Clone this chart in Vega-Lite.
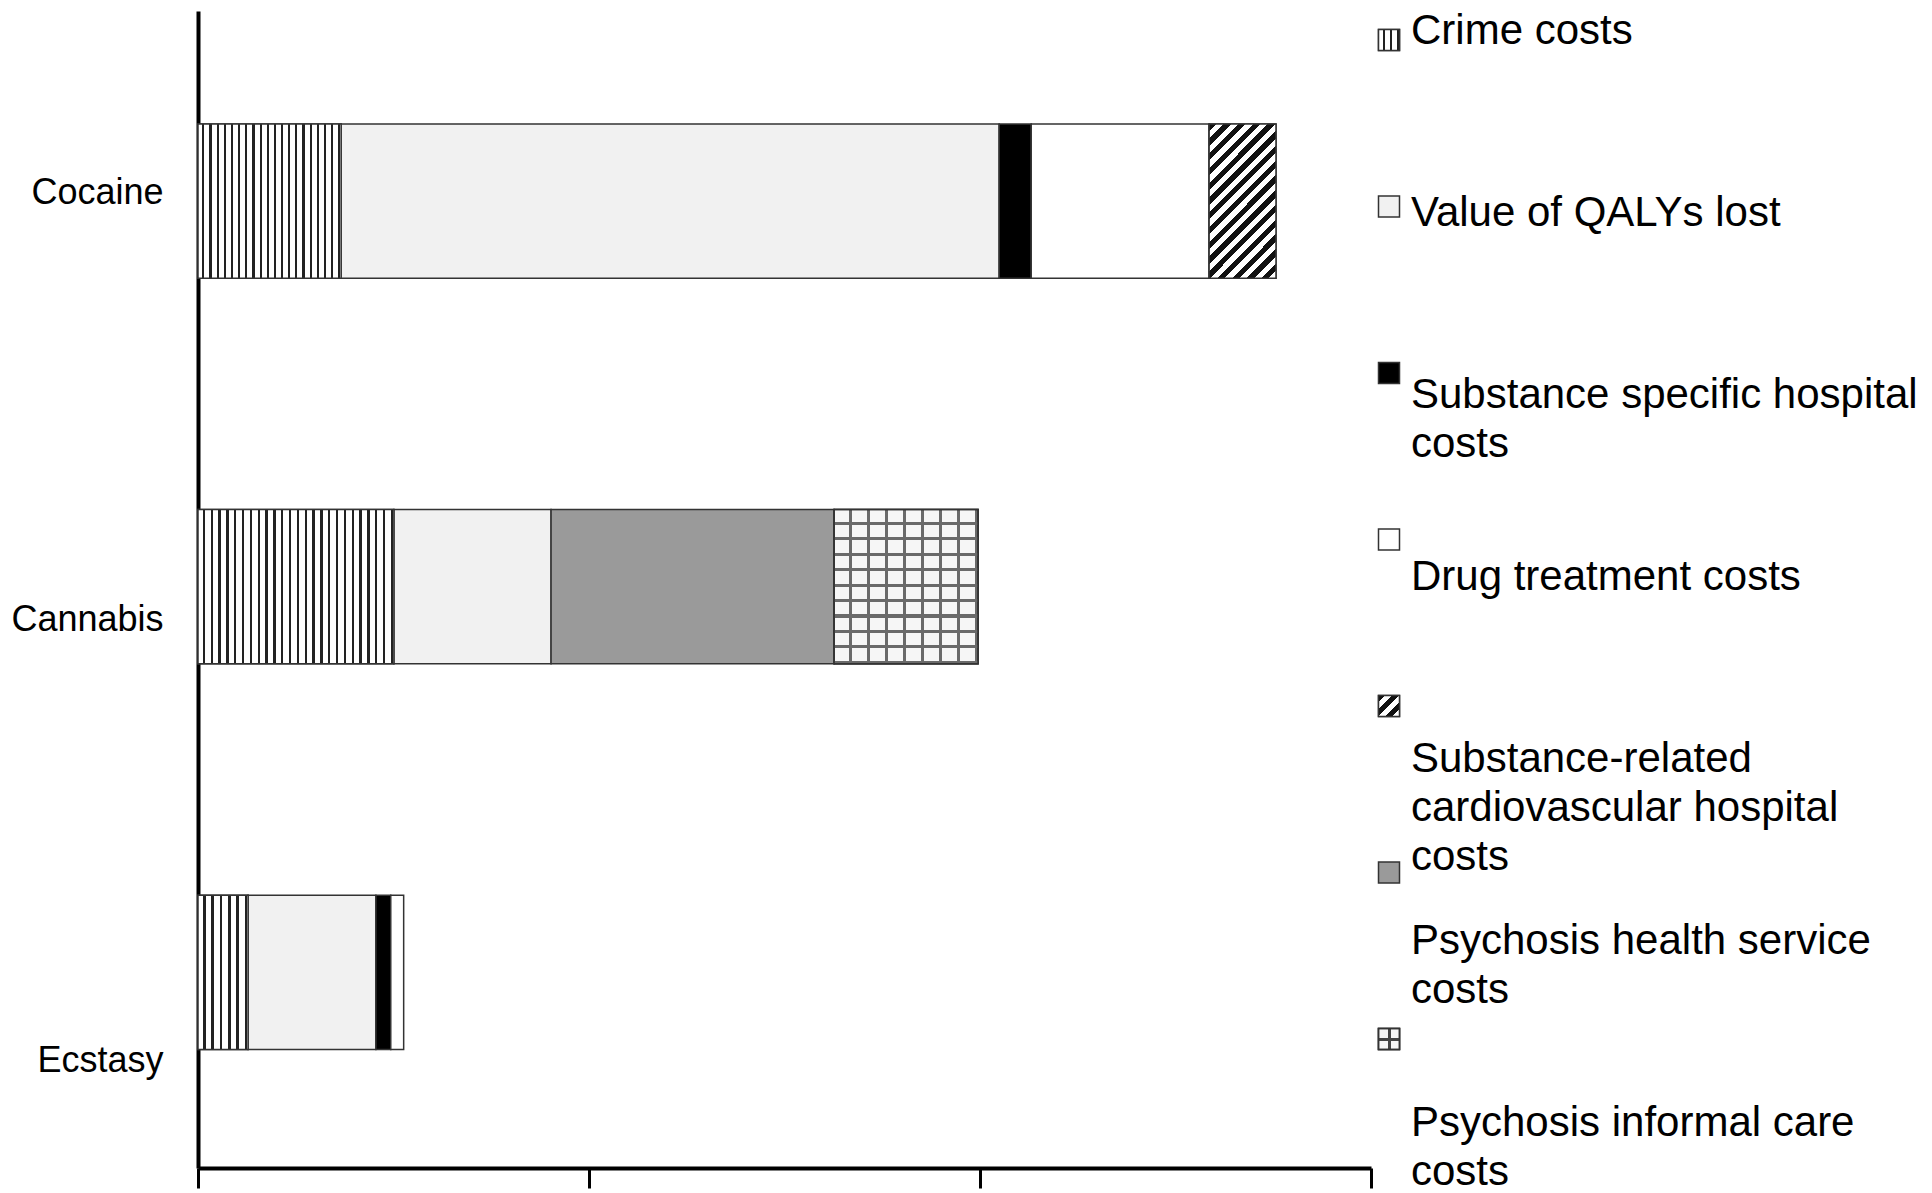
{
  "$schema": "https://vega.github.io/schema/vega-lite/v6.json",
  "autosize": {"type": "pad"},
  "padding": {"left": 10, "top": 10, "right": 5, "bottom": 5},
  "background": "white",
  "config": {"view": {"stroke": null}, "font": "Liberation Sans"},
  "datasets": {
    "bars": [
      {"drug": "Cocaine", "series": "Crime costs", "seq": 1, "cost": 36.6},
      {"drug": "Cocaine", "series": "Value of QALYs lost", "seq": 2, "cost": 168.3},
      {"drug": "Cocaine", "series": "Substance specific hospital costs", "seq": 3, "cost": 8.2},
      {"drug": "Cocaine", "series": "Drug treatment costs", "seq": 4, "cost": 45.5},
      {"drug": "Cocaine", "series": "Substance-related cardiovascular hospital costs", "seq": 5, "cost": 17.1},
      {"drug": "Cannabis", "series": "Crime costs", "seq": 1, "cost": 50.1},
      {"drug": "Cannabis", "series": "Value of QALYs lost", "seq": 2, "cost": 40.2},
      {"drug": "Cannabis", "series": "Psychosis health service costs", "seq": 6, "cost": 72.4},
      {"drug": "Cannabis", "series": "Psychosis informal care costs", "seq": 7, "cost": 36.8},
      {"drug": "Ecstasy", "series": "Crime costs", "seq": 1, "cost": 12.8},
      {"drug": "Ecstasy", "series": "Value of QALYs lost", "seq": 2, "cost": 32.7},
      {"drug": "Ecstasy", "series": "Substance specific hospital costs", "seq": 3, "cost": 3.8},
      {"drug": "Ecstasy", "series": "Drug treatment costs", "seq": 4, "cost": 3.3}
    ],
    "legend": [
      {"series": "Crime costs", "label": "Crime costs"},
      {"series": "Value of QALYs lost", "label": "Value of QALYs lost"},
      {"series": "Substance specific hospital costs", "label": "Substance specific hospital\ncosts"},
      {"series": "Drug treatment costs", "label": "Drug treatment costs"},
      {"series": "Substance-related cardiovascular hospital costs", "label": "Substance-related\ncardiovascular hospital\ncosts"},
      {"series": "Psychosis health service costs", "label": "Psychosis health service\ncosts"},
      {"series": "Psychosis informal care costs", "label": "Psychosis informal care\ncosts"}
    ]
  },
  "spacing": 2,
  "hconcat": [
    {
      "width": 1173,
      "height": 1157,
      "data": {"name": "bars"},
      "transform": [
        {"stack": "cost", "groupby": ["drug"], "sort": [{"field": "seq", "order": "ascending"}], "as": ["x0", "x1"]}
      ],
      "encoding": {
        "x": {"field": "x0", "type": "quantitative",
          "scale": {"domain": [0, 300], "nice": false, "zero": true},
          "axis": {"values": [0, 100, 200, 300], "labels": false, "ticks": true, "tickSize": 20, "tickWidth": 3, "tickColor": "#000", "domainColor": "#000", "domainWidth": 4, "grid": false, "title": null}},
        "x2": {"field": "x1"},
        "y": {"field": "drug", "type": "nominal",
          "scale": {"domain": ["Cocaine", "Cannabis", "Ecstasy"], "paddingInner": 0.6, "paddingOuter": 0.3, "align": 0.488},
          "axis": {"title": null, "ticks": false, "domainColor": "#000", "domainWidth": 4, "labelFont": "Liberation Sans", "labelFontSize": 36, "labelColor": "#000", "labelPadding": 35,
            "labelOffset": {"condition": [{"test": "datum.value === 'Cocaine'", "value": -8}, {"test": "datum.value === 'Ecstasy'", "value": 89}], "value": 33}}}
      },
      "layer": [
        {
          "mark": {"type": "bar", "stroke": "#333", "strokeWidth": 1.5, "opacity": 1},
          "encoding": {
            "color": {"field": "series", "type": "nominal", "legend": null,
              "scale": {"domain": ["Crime costs", "Value of QALYs lost", "Substance specific hospital costs", "Drug treatment costs", "Substance-related cardiovascular hospital costs", "Psychosis health service costs", "Psychosis informal care costs"],
                "range": ["#ffffff", "#f1f1f1", "#000000", "#ffffff", "#ffffff", "#9a9a9a", "#ffffff"]}}
          }
        },
        {
          "transform": [{"filter": "datum.drug === 'Cocaine' && datum.series === 'Crime costs'"}],
          "mark": {"type": "bar", "stroke": "#333", "strokeWidth": 1.5,
            "fill": {"gradient": "linear", "x1": 0, "y1": 0, "x2": 1, "y2": 0, "stops": [
              {"offset": 0, "color": "#fff"},
              {"offset": 0.03, "color": "#fff"}, {"offset": 0.03, "color": "#222"}, {"offset": 0.045, "color": "#222"}, {"offset": 0.045, "color": "#fff"},
              {"offset": 0.08, "color": "#fff"}, {"offset": 0.08, "color": "#222"}, {"offset": 0.095, "color": "#222"}, {"offset": 0.095, "color": "#fff"},
              {"offset": 0.13, "color": "#fff"}, {"offset": 0.13, "color": "#222"}, {"offset": 0.145, "color": "#222"}, {"offset": 0.145, "color": "#fff"},
              {"offset": 0.18, "color": "#fff"}, {"offset": 0.18, "color": "#222"}, {"offset": 0.195, "color": "#222"}, {"offset": 0.195, "color": "#fff"},
              {"offset": 0.23, "color": "#fff"}, {"offset": 0.23, "color": "#222"}, {"offset": 0.245, "color": "#222"}, {"offset": 0.245, "color": "#fff"},
              {"offset": 0.28, "color": "#fff"}, {"offset": 0.28, "color": "#222"}, {"offset": 0.295, "color": "#222"}, {"offset": 0.295, "color": "#fff"},
              {"offset": 0.33, "color": "#fff"}, {"offset": 0.33, "color": "#222"}, {"offset": 0.345, "color": "#222"}, {"offset": 0.345, "color": "#fff"},
              {"offset": 0.38, "color": "#fff"}, {"offset": 0.38, "color": "#222"}, {"offset": 0.395, "color": "#222"}, {"offset": 0.395, "color": "#fff"},
              {"offset": 0.43, "color": "#fff"}, {"offset": 0.43, "color": "#222"}, {"offset": 0.445, "color": "#222"}, {"offset": 0.445, "color": "#fff"},
              {"offset": 0.48, "color": "#fff"}, {"offset": 0.48, "color": "#222"}, {"offset": 0.495, "color": "#222"}, {"offset": 0.495, "color": "#fff"},
              {"offset": 0.53, "color": "#fff"}, {"offset": 0.53, "color": "#222"}, {"offset": 0.545, "color": "#222"}, {"offset": 0.545, "color": "#fff"},
              {"offset": 0.58, "color": "#fff"}, {"offset": 0.58, "color": "#222"}, {"offset": 0.595, "color": "#222"}, {"offset": 0.595, "color": "#fff"},
              {"offset": 0.63, "color": "#fff"}, {"offset": 0.63, "color": "#222"}, {"offset": 0.645, "color": "#222"}, {"offset": 0.645, "color": "#fff"},
              {"offset": 0.68, "color": "#fff"}, {"offset": 0.68, "color": "#222"}, {"offset": 0.695, "color": "#222"}, {"offset": 0.695, "color": "#fff"},
              {"offset": 0.73, "color": "#fff"}, {"offset": 0.73, "color": "#222"}, {"offset": 0.745, "color": "#222"}, {"offset": 0.745, "color": "#fff"},
              {"offset": 0.78, "color": "#fff"}, {"offset": 0.78, "color": "#222"}, {"offset": 0.795, "color": "#222"}, {"offset": 0.795, "color": "#fff"},
              {"offset": 0.83, "color": "#fff"}, {"offset": 0.83, "color": "#222"}, {"offset": 0.845, "color": "#222"}, {"offset": 0.845, "color": "#fff"},
              {"offset": 0.88, "color": "#fff"}, {"offset": 0.88, "color": "#222"}, {"offset": 0.895, "color": "#222"}, {"offset": 0.895, "color": "#fff"},
              {"offset": 0.93, "color": "#fff"}, {"offset": 0.93, "color": "#222"}, {"offset": 0.945, "color": "#222"}, {"offset": 0.945, "color": "#fff"},
              {"offset": 0.98, "color": "#fff"}, {"offset": 0.98, "color": "#222"}, {"offset": 0.995, "color": "#222"}, {"offset": 0.995, "color": "#fff"},
              {"offset": 1, "color": "#fff"}
            ]}}
        },
        {
          "transform": [{"filter": "datum.drug === 'Cannabis' && datum.series === 'Crime costs'"}],
          "mark": {"type": "bar", "stroke": "#333", "strokeWidth": 1.5,
            "fill": {"gradient": "linear", "x1": 0, "y1": 0, "x2": 1, "y2": 0, "stops": [
              {"offset": 0, "color": "#fff"},
              {"offset": 0.024, "color": "#fff"}, {"offset": 0.024, "color": "#222"}, {"offset": 0.036, "color": "#222"}, {"offset": 0.036, "color": "#fff"},
              {"offset": 0.064, "color": "#fff"}, {"offset": 0.064, "color": "#222"}, {"offset": 0.076, "color": "#222"}, {"offset": 0.076, "color": "#fff"},
              {"offset": 0.104, "color": "#fff"}, {"offset": 0.104, "color": "#222"}, {"offset": 0.116, "color": "#222"}, {"offset": 0.116, "color": "#fff"},
              {"offset": 0.144, "color": "#fff"}, {"offset": 0.144, "color": "#222"}, {"offset": 0.156, "color": "#222"}, {"offset": 0.156, "color": "#fff"},
              {"offset": 0.184, "color": "#fff"}, {"offset": 0.184, "color": "#222"}, {"offset": 0.196, "color": "#222"}, {"offset": 0.196, "color": "#fff"},
              {"offset": 0.224, "color": "#fff"}, {"offset": 0.224, "color": "#222"}, {"offset": 0.236, "color": "#222"}, {"offset": 0.236, "color": "#fff"},
              {"offset": 0.264, "color": "#fff"}, {"offset": 0.264, "color": "#222"}, {"offset": 0.276, "color": "#222"}, {"offset": 0.276, "color": "#fff"},
              {"offset": 0.304, "color": "#fff"}, {"offset": 0.304, "color": "#222"}, {"offset": 0.316, "color": "#222"}, {"offset": 0.316, "color": "#fff"},
              {"offset": 0.344, "color": "#fff"}, {"offset": 0.344, "color": "#222"}, {"offset": 0.356, "color": "#222"}, {"offset": 0.356, "color": "#fff"},
              {"offset": 0.384, "color": "#fff"}, {"offset": 0.384, "color": "#222"}, {"offset": 0.396, "color": "#222"}, {"offset": 0.396, "color": "#fff"},
              {"offset": 0.424, "color": "#fff"}, {"offset": 0.424, "color": "#222"}, {"offset": 0.436, "color": "#222"}, {"offset": 0.436, "color": "#fff"},
              {"offset": 0.464, "color": "#fff"}, {"offset": 0.464, "color": "#222"}, {"offset": 0.476, "color": "#222"}, {"offset": 0.476, "color": "#fff"},
              {"offset": 0.504, "color": "#fff"}, {"offset": 0.504, "color": "#222"}, {"offset": 0.516, "color": "#222"}, {"offset": 0.516, "color": "#fff"},
              {"offset": 0.544, "color": "#fff"}, {"offset": 0.544, "color": "#222"}, {"offset": 0.556, "color": "#222"}, {"offset": 0.556, "color": "#fff"},
              {"offset": 0.584, "color": "#fff"}, {"offset": 0.584, "color": "#222"}, {"offset": 0.596, "color": "#222"}, {"offset": 0.596, "color": "#fff"},
              {"offset": 0.624, "color": "#fff"}, {"offset": 0.624, "color": "#222"}, {"offset": 0.636, "color": "#222"}, {"offset": 0.636, "color": "#fff"},
              {"offset": 0.664, "color": "#fff"}, {"offset": 0.664, "color": "#222"}, {"offset": 0.676, "color": "#222"}, {"offset": 0.676, "color": "#fff"},
              {"offset": 0.704, "color": "#fff"}, {"offset": 0.704, "color": "#222"}, {"offset": 0.716, "color": "#222"}, {"offset": 0.716, "color": "#fff"},
              {"offset": 0.744, "color": "#fff"}, {"offset": 0.744, "color": "#222"}, {"offset": 0.756, "color": "#222"}, {"offset": 0.756, "color": "#fff"},
              {"offset": 0.784, "color": "#fff"}, {"offset": 0.784, "color": "#222"}, {"offset": 0.796, "color": "#222"}, {"offset": 0.796, "color": "#fff"},
              {"offset": 0.824, "color": "#fff"}, {"offset": 0.824, "color": "#222"}, {"offset": 0.836, "color": "#222"}, {"offset": 0.836, "color": "#fff"},
              {"offset": 0.864, "color": "#fff"}, {"offset": 0.864, "color": "#222"}, {"offset": 0.876, "color": "#222"}, {"offset": 0.876, "color": "#fff"},
              {"offset": 0.904, "color": "#fff"}, {"offset": 0.904, "color": "#222"}, {"offset": 0.916, "color": "#222"}, {"offset": 0.916, "color": "#fff"},
              {"offset": 0.944, "color": "#fff"}, {"offset": 0.944, "color": "#222"}, {"offset": 0.956, "color": "#222"}, {"offset": 0.956, "color": "#fff"},
              {"offset": 0.984, "color": "#fff"}, {"offset": 0.984, "color": "#222"}, {"offset": 0.996, "color": "#222"}, {"offset": 0.996, "color": "#fff"},
              {"offset": 1, "color": "#fff"}
            ]}}
        },
        {
          "transform": [{"filter": "datum.drug === 'Ecstasy' && datum.series === 'Crime costs'"}],
          "mark": {"type": "bar", "stroke": "#333", "strokeWidth": 1.5,
            "fill": {"gradient": "linear", "x1": 0, "y1": 0, "x2": 1, "y2": 0, "stops": [
              {"offset": 0, "color": "#fff"},
              {"offset": 0.1, "color": "#fff"}, {"offset": 0.1, "color": "#222"}, {"offset": 0.15, "color": "#222"}, {"offset": 0.15, "color": "#fff"},
              {"offset": 0.2667, "color": "#fff"}, {"offset": 0.2667, "color": "#222"}, {"offset": 0.3167, "color": "#222"}, {"offset": 0.3167, "color": "#fff"},
              {"offset": 0.4333, "color": "#fff"}, {"offset": 0.4333, "color": "#222"}, {"offset": 0.4833, "color": "#222"}, {"offset": 0.4833, "color": "#fff"},
              {"offset": 0.6, "color": "#fff"}, {"offset": 0.6, "color": "#222"}, {"offset": 0.65, "color": "#222"}, {"offset": 0.65, "color": "#fff"},
              {"offset": 0.7667, "color": "#fff"}, {"offset": 0.7667, "color": "#222"}, {"offset": 0.8167, "color": "#222"}, {"offset": 0.8167, "color": "#fff"},
              {"offset": 0.9333, "color": "#fff"}, {"offset": 0.9333, "color": "#222"}, {"offset": 0.9833, "color": "#222"}, {"offset": 0.9833, "color": "#fff"},
              {"offset": 1, "color": "#fff"}
            ]}}
        },
        {
          "transform": [{"filter": "datum.drug === 'Cocaine' && datum.series === 'Substance-related cardiovascular hospital costs'"}],
          "mark": {"type": "bar", "stroke": "#333", "strokeWidth": 1.5,
            "fill": {"gradient": "linear", "x1": 0, "y1": 0, "x2": 0.525, "y2": 1.207, "stops": [
              {"offset": 0, "color": "#111"}, {"offset": 0.0333, "color": "#111"}, {"offset": 0.0333, "color": "#fff"}, {"offset": 0.0667, "color": "#fff"},
              {"offset": 0.0667, "color": "#111"}, {"offset": 0.1, "color": "#111"}, {"offset": 0.1, "color": "#fff"}, {"offset": 0.1333, "color": "#fff"},
              {"offset": 0.1333, "color": "#111"}, {"offset": 0.1667, "color": "#111"}, {"offset": 0.1667, "color": "#fff"}, {"offset": 0.2, "color": "#fff"},
              {"offset": 0.2, "color": "#111"}, {"offset": 0.2333, "color": "#111"}, {"offset": 0.2333, "color": "#fff"}, {"offset": 0.2667, "color": "#fff"},
              {"offset": 0.2667, "color": "#111"}, {"offset": 0.3, "color": "#111"}, {"offset": 0.3, "color": "#fff"}, {"offset": 0.3333, "color": "#fff"},
              {"offset": 0.3333, "color": "#111"}, {"offset": 0.3667, "color": "#111"}, {"offset": 0.3667, "color": "#fff"}, {"offset": 0.4, "color": "#fff"},
              {"offset": 0.4, "color": "#111"}, {"offset": 0.4333, "color": "#111"}, {"offset": 0.4333, "color": "#fff"}, {"offset": 0.4667, "color": "#fff"},
              {"offset": 0.4667, "color": "#111"}, {"offset": 0.5, "color": "#111"}, {"offset": 0.5, "color": "#fff"}, {"offset": 0.5333, "color": "#fff"},
              {"offset": 0.5333, "color": "#111"}, {"offset": 0.5667, "color": "#111"}, {"offset": 0.5667, "color": "#fff"}, {"offset": 0.6, "color": "#fff"},
              {"offset": 0.6, "color": "#111"}, {"offset": 0.6333, "color": "#111"}, {"offset": 0.6333, "color": "#fff"}, {"offset": 0.6667, "color": "#fff"},
              {"offset": 0.6667, "color": "#111"}, {"offset": 0.7, "color": "#111"}, {"offset": 0.7, "color": "#fff"}, {"offset": 0.7333, "color": "#fff"},
              {"offset": 0.7333, "color": "#111"}, {"offset": 0.7667, "color": "#111"}, {"offset": 0.7667, "color": "#fff"}, {"offset": 0.8, "color": "#fff"},
              {"offset": 0.8, "color": "#111"}, {"offset": 0.8333, "color": "#111"}, {"offset": 0.8333, "color": "#fff"}, {"offset": 0.8667, "color": "#fff"},
              {"offset": 0.8667, "color": "#111"}, {"offset": 0.9, "color": "#111"}, {"offset": 0.9, "color": "#fff"}, {"offset": 0.9333, "color": "#fff"},
              {"offset": 0.9333, "color": "#111"}, {"offset": 0.9667, "color": "#111"}, {"offset": 0.9667, "color": "#fff"}, {"offset": 1, "color": "#fff"}
            ]}}
        },
        {
          "transform": [{"filter": "datum.drug === 'Cannabis' && datum.series === 'Psychosis informal care costs'"}],
          "mark": {"type": "bar", "stroke": "#333", "strokeWidth": 1.5,
            "fill": {"gradient": "linear", "x1": 0, "y1": 0, "x2": 1, "y2": 0, "stops": [
              {"offset": 0, "color": "#f6f6f6"}, {"offset": 0.105, "color": "#f6f6f6"}, {"offset": 0.105, "color": "#6a6a6a"}, {"offset": 0.125, "color": "#6a6a6a"},
              {"offset": 0.125, "color": "#f6f6f6"}, {"offset": 0.23, "color": "#f6f6f6"}, {"offset": 0.23, "color": "#6a6a6a"}, {"offset": 0.25, "color": "#6a6a6a"},
              {"offset": 0.25, "color": "#f6f6f6"}, {"offset": 0.355, "color": "#f6f6f6"}, {"offset": 0.355, "color": "#6a6a6a"}, {"offset": 0.375, "color": "#6a6a6a"},
              {"offset": 0.375, "color": "#f6f6f6"}, {"offset": 0.48, "color": "#f6f6f6"}, {"offset": 0.48, "color": "#6a6a6a"}, {"offset": 0.5, "color": "#6a6a6a"},
              {"offset": 0.5, "color": "#f6f6f6"}, {"offset": 0.605, "color": "#f6f6f6"}, {"offset": 0.605, "color": "#6a6a6a"}, {"offset": 0.625, "color": "#6a6a6a"},
              {"offset": 0.625, "color": "#f6f6f6"}, {"offset": 0.73, "color": "#f6f6f6"}, {"offset": 0.73, "color": "#6a6a6a"}, {"offset": 0.75, "color": "#6a6a6a"},
              {"offset": 0.75, "color": "#f6f6f6"}, {"offset": 0.855, "color": "#f6f6f6"}, {"offset": 0.855, "color": "#6a6a6a"}, {"offset": 0.875, "color": "#6a6a6a"},
              {"offset": 0.875, "color": "#f6f6f6"}, {"offset": 0.98, "color": "#f6f6f6"}, {"offset": 0.98, "color": "#6a6a6a"}, {"offset": 1, "color": "#6a6a6a"}
            ]}}
        },
        {
          "transform": [{"filter": "datum.drug === 'Cannabis' && datum.series === 'Psychosis informal care costs'"}],
          "mark": {"type": "bar", "stroke": "#333", "strokeWidth": 1.5,
            "fill": {"gradient": "linear", "x1": 0, "y1": 0, "x2": 0, "y2": 1, "stops": [
              {"offset": 0, "color": "rgba(255,255,255,0)"}, {"offset": 0.08, "color": "rgba(255,255,255,0)"}, {"offset": 0.08, "color": "#6a6a6a"}, {"offset": 0.1, "color": "#6a6a6a"},
              {"offset": 0.1, "color": "rgba(255,255,255,0)"}, {"offset": 0.18, "color": "rgba(255,255,255,0)"}, {"offset": 0.18, "color": "#6a6a6a"}, {"offset": 0.2, "color": "#6a6a6a"},
              {"offset": 0.2, "color": "rgba(255,255,255,0)"}, {"offset": 0.28, "color": "rgba(255,255,255,0)"}, {"offset": 0.28, "color": "#6a6a6a"}, {"offset": 0.3, "color": "#6a6a6a"},
              {"offset": 0.3, "color": "rgba(255,255,255,0)"}, {"offset": 0.38, "color": "rgba(255,255,255,0)"}, {"offset": 0.38, "color": "#6a6a6a"}, {"offset": 0.4, "color": "#6a6a6a"},
              {"offset": 0.4, "color": "rgba(255,255,255,0)"}, {"offset": 0.48, "color": "rgba(255,255,255,0)"}, {"offset": 0.48, "color": "#6a6a6a"}, {"offset": 0.5, "color": "#6a6a6a"},
              {"offset": 0.5, "color": "rgba(255,255,255,0)"}, {"offset": 0.58, "color": "rgba(255,255,255,0)"}, {"offset": 0.58, "color": "#6a6a6a"}, {"offset": 0.6, "color": "#6a6a6a"},
              {"offset": 0.6, "color": "rgba(255,255,255,0)"}, {"offset": 0.68, "color": "rgba(255,255,255,0)"}, {"offset": 0.68, "color": "#6a6a6a"}, {"offset": 0.7, "color": "#6a6a6a"},
              {"offset": 0.7, "color": "rgba(255,255,255,0)"}, {"offset": 0.78, "color": "rgba(255,255,255,0)"}, {"offset": 0.78, "color": "#6a6a6a"}, {"offset": 0.8, "color": "#6a6a6a"},
              {"offset": 0.8, "color": "rgba(255,255,255,0)"}, {"offset": 0.88, "color": "rgba(255,255,255,0)"}, {"offset": 0.88, "color": "#6a6a6a"}, {"offset": 0.9, "color": "#6a6a6a"},
              {"offset": 0.9, "color": "rgba(255,255,255,0)"}, {"offset": 0.98, "color": "rgba(255,255,255,0)"}, {"offset": 0.98, "color": "#6a6a6a"}, {"offset": 1, "color": "#6a6a6a"}
            ]}}
        }
      ]
    },
    {
      "width": 22,
      "height": 1157,
      "data": {"name": "legend"},
      "resolve": {"scale": {"y": "independent"}},
      "layer": [
        {
          "encoding": {
            "y": {"field": "series", "type": "nominal", "axis": null, "sort": null,
              "scale": {"type": "point", "domain": ["Crime costs", "Value of QALYs lost", "Substance specific hospital costs", "Drug treatment costs", "Substance-related cardiovascular hospital costs", "Psychosis health service costs", "Psychosis informal care costs"], "padding": 0.4745, "align": 0.1835}}
          },
          "layer": [
            {
              "mark": {"type": "square", "size": 441, "filled": true, "opacity": 1, "stroke": "#333", "strokeWidth": 1.5},
              "encoding": {
                "color": {"field": "series", "type": "nominal", "legend": null,
                  "scale": {"domain": ["Crime costs", "Value of QALYs lost", "Substance specific hospital costs", "Drug treatment costs", "Substance-related cardiovascular hospital costs", "Psychosis health service costs", "Psychosis informal care costs"],
                    "range": ["#ffffff", "#f1f1f1", "#000000", "#ffffff", "#ffffff", "#9a9a9a", "#ffffff"]}}
              }
            },
            {
              "transform": [{"filter": "datum.series === 'Crime costs'"}],
              "mark": {"type": "square", "size": 441, "filled": true, "opacity": 1, "stroke": "#333", "strokeWidth": 1.5,
                "fill": {"gradient": "linear", "x1": 0, "y1": 0, "x2": 1, "y2": 0, "stops": [
                  {"offset": 0, "color": "#fff"},
                  {"offset": 0.2, "color": "#fff"}, {"offset": 0.2, "color": "#222"}, {"offset": 0.3, "color": "#222"}, {"offset": 0.3, "color": "#fff"},
                  {"offset": 0.5333, "color": "#fff"}, {"offset": 0.5333, "color": "#222"}, {"offset": 0.6333, "color": "#222"}, {"offset": 0.6333, "color": "#fff"},
                  {"offset": 0.8667, "color": "#fff"}, {"offset": 0.8667, "color": "#222"}, {"offset": 0.9667, "color": "#222"}, {"offset": 0.9667, "color": "#fff"},
                  {"offset": 1, "color": "#fff"}
                ]}}
            },
            {
              "transform": [{"filter": "datum.series === 'Substance-related cardiovascular hospital costs'"}],
              "mark": {"type": "square", "size": 441, "filled": true, "opacity": 1, "stroke": "#333", "strokeWidth": 1.5,
                "fill": {"gradient": "linear", "x1": 0, "y1": 0, "x2": 1, "y2": 1, "stops": [
                  {"offset": 0, "color": "#111"}, {"offset": 0.1667, "color": "#111"}, {"offset": 0.1667, "color": "#fff"}, {"offset": 0.3333, "color": "#fff"},
                  {"offset": 0.3333, "color": "#111"}, {"offset": 0.5, "color": "#111"}, {"offset": 0.5, "color": "#fff"}, {"offset": 0.6667, "color": "#fff"},
                  {"offset": 0.6667, "color": "#111"}, {"offset": 0.8333, "color": "#111"}, {"offset": 0.8333, "color": "#fff"}, {"offset": 1, "color": "#fff"}
                ]}}
            },
            {
              "transform": [{"filter": "datum.series === 'Psychosis informal care costs'"}],
              "mark": {"type": "square", "size": 441, "filled": true, "opacity": 1, "stroke": "#333", "strokeWidth": 1.5,
                "fill": {"gradient": "linear", "x1": 0, "y1": 0, "x2": 1, "y2": 0, "stops": [
                  {"offset": 0, "color": "#f6f6f6"}, {"offset": 0.45, "color": "#f6f6f6"}, {"offset": 0.45, "color": "#444"}, {"offset": 0.6, "color": "#444"}, {"offset": 0.6, "color": "#f6f6f6"}, {"offset": 1, "color": "#f6f6f6"}
                ]}}
            },
            {
              "transform": [{"filter": "datum.series === 'Psychosis informal care costs'"}],
              "mark": {"type": "square", "size": 441, "filled": true, "opacity": 1, "stroke": "#333", "strokeWidth": 1.5,
                "fill": {"gradient": "linear", "x1": 0, "y1": 0, "x2": 0, "y2": 1, "stops": [
                  {"offset": 0, "color": "rgba(255,255,255,0)"}, {"offset": 0.45, "color": "rgba(255,255,255,0)"}, {"offset": 0.45, "color": "#444"}, {"offset": 0.6, "color": "#444"}, {"offset": 0.6, "color": "rgba(255,255,255,0)"}, {"offset": 1, "color": "rgba(255,255,255,0)"}
                ]}}
            }
          ]
        },
        {
          "mark": {"type": "text", "align": "left", "baseline": "top", "dx": 22, "fontSize": 42, "font": "Liberation Sans", "lineBreak": "\n", "lineHeight": 49, "color": "#000"},
          "encoding": {
            "text": {"field": "label"},
            "y": {"field": "series", "type": "nominal", "axis": null, "sort": null,
              "scale": {"type": "point", "domain": ["Crime costs", "Value of QALYs lost", "Substance specific hospital costs", "Drug treatment costs", "Substance-related cardiovascular hospital costs", "Psychosis health service costs", "Psychosis informal care costs"], "padding": 0.18, "align": 0}}
          }
        }
      ]
    }
  ]
}
